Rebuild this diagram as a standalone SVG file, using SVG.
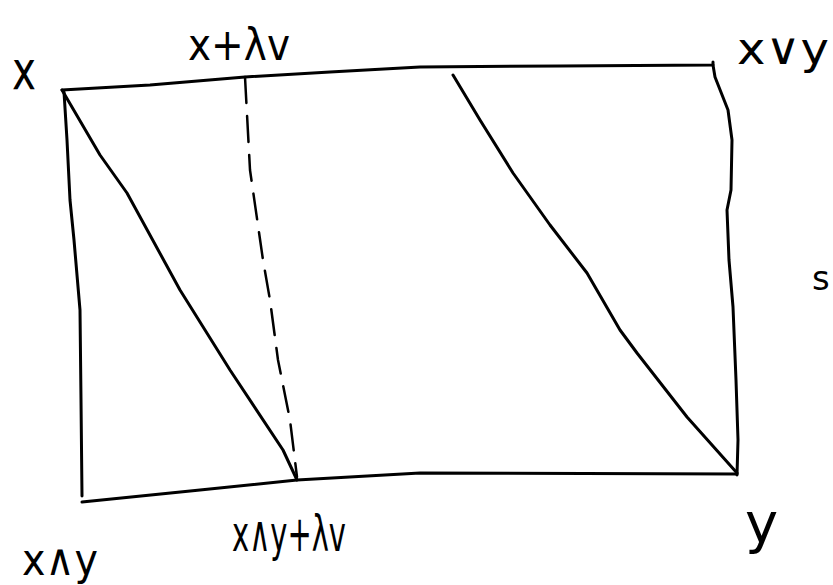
<svg xmlns="http://www.w3.org/2000/svg" width="833" height="585" viewBox="0 0 833 585">
<style>
.ln{fill:none;stroke:#000;stroke-width:3;stroke-linecap:round;stroke-linejoin:round}
.dash{stroke-width:2.5;stroke-dasharray:26 13}
.lbl{font-family:"DejaVu Sans","Liberation Sans",sans-serif;font-size:44px;fill:#000}
</style>
<rect width="833" height="585" fill="#fff"/>
<g id="connectors">
<polyline class="ln" points="62,90 150,85 245,77 330,72 420,67 560,66 713,65 713,62"/>
<polyline class="ln" points="713,65 715,77 728,110 732,140 731,190 727,210 729,260 733,307 736,380 738,440 737,475"/>
<polyline class="ln" points="64,92 67,140 70,200 74,240 80,310 81,400 82,496"/>
<polyline class="ln" points="82,502 200,490 297,480 420,473 737,474"/>
<polyline class="ln" points="62,90 100,155 127,193 180,290 230,370 283,450 297,480"/>
<polyline class="ln dash" points="245,77 250,170 263,260 270,300 278,360 290,420 297,477"/>
<polyline class="ln" points="453,75 480,120 513,173 550,225 587,273 620,330 637,353 687,417 737,473"/>
</g>
<g id="node-x"><text class="lbl" x="12" y="89" style="font-size:54px" textLength="24" lengthAdjust="spacingAndGlyphs">x</text></g>
<g id="node-x-plus"><text class="lbl" x="188" y="60" textLength="102" lengthAdjust="spacingAndGlyphs">x+λv</text></g>
<g id="node-join"><text class="lbl" x="737" y="64" textLength="92" lengthAdjust="spacingAndGlyphs">x∨y</text></g>
<g id="node-s"><text class="lbl" x="812" y="290" style="font-size:34px">s</text></g>
<g id="node-meet"><text class="lbl" x="22" y="575" textLength="76" lengthAdjust="spacingAndGlyphs">x∧y</text></g>
<g id="node-meet-plus"><text class="lbl" x="232" y="551" style="font-size:50px" textLength="114" lengthAdjust="spacingAndGlyphs">x∧y+λv</text></g>
<g id="node-y"><text class="lbl" x="745" y="542" style="font-size:56px">y</text></g>
</svg>
